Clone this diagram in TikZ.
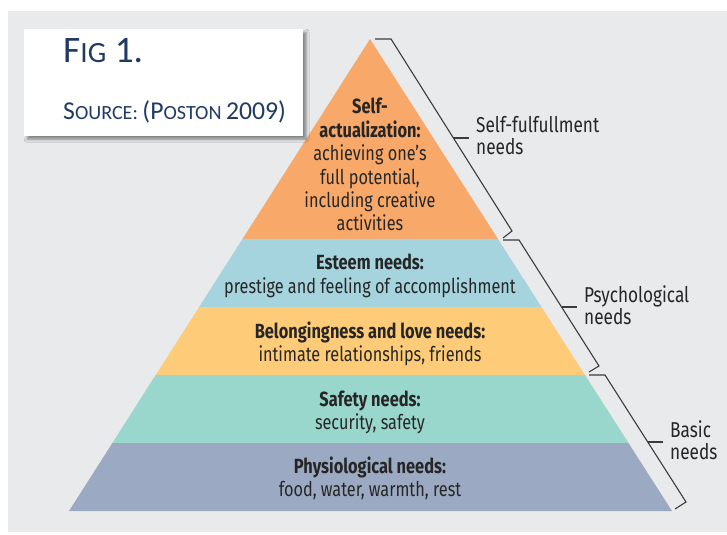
\documentclass[tikz,border=0pt]{standalone}
\usepackage{fontspec}
\usetikzlibrary{shadows.blur}
\newfontfamily\condfont[FakeStretch=0.80]{Fira Sans}
\newfontfamily\capfont{Carlito}
\definecolor{pagegray}{HTML}{E9EAEC}
\definecolor{tierorange}{HTML}{F8A96A}
\definecolor{tierblue}{HTML}{A6D4DE}
\definecolor{tieryellow}{HTML}{FECC79}
\definecolor{tierteal}{HTML}{99D6CC}
\definecolor{tierslate}{HTML}{9BAAC2}
\definecolor{inktext}{HTML}{262626}
\definecolor{inkline}{HTML}{3C3C3C}
\definecolor{capblue}{HTML}{1F3A64}
\begin{document}
\begin{tikzpicture}[x=1bp,y=-1bp,
  tierhead/.style={anchor=base,inner sep=0,text=inktext,
    font=\condfont\bfseries\fontsize{20.6}{23}\selectfont},
  tiertext/.style={anchor=base,inner sep=0,text=inktext,
    font=\condfont\fontsize{20.4}{23}\selectfont},
  bracketline/.style={draw=inkline,line width=1.1bp,line join=miter},
  grouplabel/.style={anchor=west,align=left,inner sep=0,text=inktext,
    font=\condfont\fontsize{21.6}{22}\selectfont},
  capline/.style={anchor=base west,inner sep=0,text=capblue}]
\useasboundingbox (0,0) rectangle (727,535);
\fill[white] (0,0) rectangle (727,535);
\fill[pagegray] (8,11) rectangle (727,532);

% pyramid outline points
\coordinate (apex) at (370,39);
\coordinate (L1) at (242.5,239); \coordinate (R1) at (498,239);
\coordinate (L2) at (199.1,307); \coordinate (R2) at (541.5,307);
\coordinate (L3) at (155.7,375); \coordinate (R3) at (585,375);
\coordinate (L4) at (112.4,443); \coordinate (R4) at (628.5,443);
\coordinate (L5) at (69,511);    \coordinate (R5) at (672,511);

% tiers
\fill[tierorange] (apex) -- (L1) -- (R1) -- cycle;
\fill[tierblue]   (L1) -- (L2) -- (R2) -- (R1) -- cycle;
\fill[tieryellow] (L2) -- (L3) -- (R3) -- (R2) -- cycle;
\fill[tierteal]   (L3) -- (L4) -- (R4) -- (R3) -- cycle;
\fill[tierslate]  (L4) -- (L5) -- (R5) -- (R4) -- cycle;

% tier texts
\node[tierhead] (sa1) at (370,114) {Self-};
\node[tierhead] (sa2) at (370,137.4) {actualization:};
\node[tiertext] (sa3) at (370,160.8) {achieving one’s};
\node[tiertext] (sa4) at (370,184.2) {full potential,};
\node[tiertext] (sa5) at (370,207.6) {including creative};
\node[tiertext] (sa6) at (370,231) {activities};

\node[tierhead] (es1) at (370,270) {Esteem needs:};
\node[tiertext] (es2) at (370,293) {prestige and feeling of accomplishment};

\node[tierhead] (bl1) at (370,338) {Belongingness and love needs:};
\node[tiertext] (bl2) at (370,361) {intimate relationships, friends};

\node[tierhead] (sf1) at (370,406) {Safety needs:};
\node[tiertext] (sf2) at (370,429) {security, safety};

\node[tierhead] (ph1) at (370,473) {Physiological needs:};
\node[tiertext] (ph2) at (370,496) {food, water, warmth, rest};

% brackets
\coordinate (b1a) at (375,39);  \coordinate (b1b) at (391,39);
\coordinate (b1c) at (512,231); \coordinate (b1d) at (503,238);
\coordinate (b1m) at (453.4,138); \coordinate (b1t) at (469,138);
\coordinate (b2a) at (503,240); \coordinate (b2b) at (519,240);
\coordinate (b2c) at (599,366); \coordinate (b2d) at (589,372);
\coordinate (b2m) at (561.5,307); \coordinate (b2t) at (577,307);
\coordinate (b3a) at (589,375); \coordinate (b3b) at (605,375);
\coordinate (b3c) at (686,502); \coordinate (b3d) at (675,509);
\coordinate (b3m) at (647.7,442); \coordinate (b3t) at (663,442);

\draw[bracketline] (b1a) -- (b1b) -- (b1c) -- (b1d);
\draw[bracketline] (b1m) -- (b1t);
\draw[bracketline] (b2a) -- (b2b) -- (b2c) -- (b2d);
\draw[bracketline] (b2m) -- (b2t);
\draw[bracketline] (b3a) -- (b3b) -- (b3c) -- (b3d);
\draw[bracketline] (b3m) -- (b3t);

\node[grouplabel] (g1) at ([xshift=7bp,yshift=2bp]b1t) {Self-fulfullment\\needs};
\node[grouplabel] (g2) at ([xshift=7bp,yshift=2bp]b2t) {Psychological\\needs};
\node[grouplabel] (g3) at ([xshift=7bp,yshift=2bp]b3t) {Basic\\needs};

% caption card
\node[fill=white,anchor=north west,inner sep=0,minimum width=279bp,minimum height=107bp,
  blur shadow={shadow xshift=3bp,shadow yshift=-3bp,shadow blur radius=3bp,shadow opacity=45}]
  (card) at (24,29) {};
\node[capline] (cap1) at (63,63)
  {\capfont\fontsize{37.5}{37.5}\selectfont F\fontsize{29.5}{29.5}\selectfont IG\fontsize{37.5}{37.5}\selectfont{} 1.};
\node[capline] (cap2) at (63,120)
  {\capfont\fontsize{25.8}{25.8}\selectfont S\fontsize{20.2}{20.2}\selectfont OURCE:
   \fontsize{25.8}{25.8}\selectfont (P\fontsize{20.2}{20.2}\selectfont OSTON
   \fontsize{25.8}{25.8}\selectfont 2009)};
\end{tikzpicture}
\end{document}
